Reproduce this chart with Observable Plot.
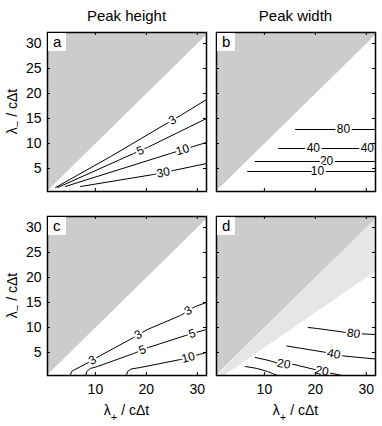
<!DOCTYPE html>
<html><head><meta charset="utf-8">
<script src="https://cdn.jsdelivr.net/npm/d3@7"></script>
<script src="https://cdn.jsdelivr.net/npm/@observablehq/plot@0.6"></script>
<style>
body{margin:0;background:#fff;}
#fig{position:relative;width:382px;height:426px;font-family:"Liberation Sans",Arial,sans-serif;}
#fig .pw{position:absolute;}
#fig svg.ov{position:absolute;left:0;top:0;pointer-events:none;}
</style></head><body><div id="fig"></div>
<script>
// ---- data ----
const xDomain = [0.6, 31.8];
const yDomain = [0.4, 32.2];
const xTicks = [10, 20, 30];
const yTicks = [5, 10, 15, 20, 25, 30];
const columnTitles = ["Peak height", "Peak width"];
const panelLetters = ["a", "b", "c", "d"];
// region where lambda_- > lambda_+ (excluded)
const excludedRegion = [[0.6, 0.6], [0.6, 32.2], [31.8, 32.2], [31.8, 31.8]];
// extra excluded wedge in panel d
const wedgeD = [[0.6, 0.4], [31.8, 31.8], [31.8, 21.3], [2.0, 0.4]];

const linesA = [
  {level: 3,  pts: [[2.2,1.2],[13.0,7.4],[23.3,13.6],[26.7,15.6],[31.8,18.8]]},
  {level: 5,  pts: [[2.6,1.2],[17.5,8.0],[20.2,9.2],[31.8,15.0]]},
  {level: 10, pts: [[4.1,1.4],[24.7,8.0],[29.2,9.4],[31.8,10.2]]},
  {level: 30, pts: [[7.1,1.4],[21.4,3.8],[25.3,4.6],[31.8,6.0]]}
];
const labelsA = [{level:3,x:25.1},{level:5,x:18.8},{level:10,x:27.1},{level:30,x:23.3}];

const linesB = [
  {level: 80, pts: [[16.1,12.8],[31.8,12.8]]},
  {level: 40, pts: [[12.8,9.0],[31.8,9.0]]},
  {level: 20, pts: [[8.2,6.4],[31.8,6.4]]},
  {level: 10, pts: [[6.7,4.4],[31.8,4.4]]}
];
const labelsB = [{level:80,x:25.5},{level:40,x:19.6},{level:40,x:30.2},{level:20,x:22.2},{level:10,x:20.4}];

const linesC = [
  {level: 3,  pts: [[5.1,0.4],[5.3,1.2],[6.0,1.6],[9.0,3.2],[11.0,4.4],[17.5,8.0],[20.2,9.6],[26.7,12.4],[29.6,14.2],[31.8,15.0]]},
  {level: 5,  pts: [[8.1,0.4],[8.3,1.2],[9.0,1.8],[10.4,2.2],[17.5,4.8],[20.4,6.0],[27.7,8.4],[31.8,9.6]]},
  {level: 10, pts: [[16.1,0.4],[16.3,1.2],[17.0,1.7],[18.8,2.0],[26.7,3.6],[31.8,5.0]]}
];
const labelsC = [{level:3,x:9.4},{level:3,x:18.4},{level:3,x:28.2},{level:5,x:19.2},{level:5,x:29.0},{level:10,x:28.2}];

const linesD = [
  {level: 80, pts: [[18.6,10.0],[20.4,9.8],[27.5,8.8],[31.8,8.6]]},
  {level: 40, pts: [[14.4,6.3],[21.6,5.1],[23.6,4.7],[25.6,4.3],[31.8,3.7]]},
  {level: 20, pts: [[8.2,4.0],[10.5,3.5],[12.5,2.9],[13.8,2.7],[15.8,2.6],[20.3,1.5],[21.3,1.3],[22.9,0.9],[25.2,0.4]]},
  {level: 10, pts: [[6.3,2.2],[8.6,1.8],[10.6,1.2],[11.6,0.8],[12.6,0.4]]}
];
const labelsD = [{level:80,x:27.5},{level:40,x:23.6},{level:20,x:13.8},{level:20,x:21.3}];

// ---- layout ----
const PW = 159, PH = 159;
const kx = PW / (xDomain[1] - xDomain[0]), ky = PH / (yDomain[1] - yDomain[0]);
const DARK = "#cccccc", LIGHT = "#e6e6e6";
const FONT = "'Liberation Sans', Arial, Helvetica, sans-serif";

const panels = [
  {i:0, left:0,   top:0,   w:210, h:195, ml:47, mr:4, mt:32, mb:4,  lines:linesA, labels:labelsA, yLab:true,  xLab:false, wedge:null},
  {i:1, left:210, top:0,   w:172, h:195, ml:6,  mr:7, mt:32, mb:4,  lines:linesB, labels:labelsB, yLab:false, xLab:false, wedge:null},
  {i:2, left:0,   top:195, w:210, h:231, ml:47, mr:4, mt:21, mb:51, lines:linesC, labels:labelsC, yLab:true,  xLab:true,  wedge:null},
  {i:3, left:210, top:195, w:172, h:231, ml:6,  mr:7, mt:21, mb:51, lines:linesD, labels:labelsD, yLab:false, xLab:true,  wedge:wedgeD}
];

function onLine(pts, x) {
  for (let i = 0; i < pts.length - 1; i++) {
    const [x0, y0] = pts[i], [x1, y1] = pts[i + 1];
    if (x >= Math.min(x0, x1) && x <= Math.max(x0, x1)) {
      const t = x1 === x0 ? 0 : (x - x0) / (x1 - x0);
      const y = y0 + t * (y1 - y0);
      const angle = -Math.atan2((y1 - y0) * ky, (x1 - x0) * kx) * 180 / Math.PI;
      return {y, angle};
    }
  }
  return {y: pts[pts.length - 1][1], angle: 0};
}

const fig = document.getElementById("fig");

for (const p of panels) {
  const linePts = p.lines.flatMap((l, k) => l.pts.map(([x, y]) => ({x, y, id: k})));
  const labs = p.labels.map(lb => {
    const line = p.lines.find(l => l.level === lb.level);
    const {y, angle} = onLine(line.pts, lb.x);
    return {x: lb.x, y, angle, text: String(lb.level)};
  });
  const marks = [];
  if (p.wedge) marks.push(Plot.line(p.wedge, {x: d => d[0], y: d => d[1], fill: LIGHT, stroke: "none"}));
  marks.push(Plot.line(excludedRegion, {x: d => d[0], y: d => d[1], fill: DARK, stroke: "none"}));
  marks.push(Plot.line(linePts, {x: "x", y: "y", z: "id", stroke: "black", strokeWidth: 1}));
  marks.push(Plot.text(labs, {x: "x", y: "y", text: "text", rotate: "angle", fill: "black",
    stroke: "white", strokeWidth: 4, fontSize: 12, fontFamily: FONT}));
  // inward ticks on all four sides
  marks.push(Plot.ruleX(xTicks, {x: d => d, insetTop: PH - 3, stroke: "black"}));
  marks.push(Plot.ruleX(xTicks, {x: d => d, insetBottom: PH - 3, stroke: "black"}));
  marks.push(Plot.ruleY(yTicks, {y: d => d, insetRight: PW - 3, stroke: "black"}));
  marks.push(Plot.ruleY(yTicks, {y: d => d, insetLeft: PW - 3, stroke: "black"}));
  if (p.yLab) marks.push(Plot.text(yTicks, {y: d => d, text: d => String(d), frameAnchor: "left",
    textAnchor: "end", dx: -6, fontSize: 14, fill: "black", fontFamily: FONT}));
  if (p.xLab) marks.push(Plot.text(xTicks, {x: d => d, text: d => String(d), frameAnchor: "bottom",
    lineAnchor: "bottom", dy: 18, fontSize: 14, fill: "black", fontFamily: FONT}));
  marks.push(Plot.frame({stroke: "black", strokeWidth: 1.5}));

  const chart = Plot.plot({
    width: p.w, height: p.h,
    marginLeft: p.ml, marginRight: p.mr, marginTop: p.mt, marginBottom: p.mb,
    x: {domain: xDomain, axis: null},
    y: {domain: yDomain, axis: null},
    style: {background: "transparent", fontFamily: FONT, overflow: "visible"},
    marks
  });
  const wrap = document.createElement("div");
  wrap.className = "pw";
  wrap.style.left = p.left + "px";
  wrap.style.top = p.top + "px";
  wrap.appendChild(chart);
  fig.appendChild(wrap);
}

// ---- overlay: titles, axis titles, panel letters ----
const ov = d3.select(fig).append("svg").attr("class", "ov").attr("width", 382).attr("height", 426)
  .style("font-family", FONT);
columnTitles.forEach((t, c) => {
  const p = panels[c];
  ov.append("text").attr("x", p.left + p.ml + PW / 2).attr("y", 21).attr("text-anchor", "middle")
    .attr("font-size", 15).attr("fill", "black").text(t);
});
panels.forEach(p => {
  const x0 = p.left + p.ml, y0 = p.top + p.mt;
  ov.append("rect").attr("x", x0 + 1).attr("y", y0 + 1).attr("width", 18).attr("height", 18).attr("fill", "white");
  ov.append("text").attr("x", x0 + 6).attr("y", y0 + 15).attr("font-size", 15).attr("fill", "black")
    .text(panelLetters[p.i]);
  if (p.yLab) {
    const t = ov.append("text").attr("transform", `translate(17,${y0 + PH / 2}) rotate(-90)`)
      .attr("text-anchor", "middle").attr("font-size", 14).attr("fill", "black");
    t.append("tspan").text("λ");
    t.append("tspan").attr("dy", 4).attr("font-size", 11).text("−");
    t.append("tspan").attr("dy", -4).text(" / cΔt");
  }
  if (p.xLab) {
    const t = ov.append("text").attr("x", x0 + PW / 2).attr("y", y0 + PH + 40)
      .attr("text-anchor", "middle").attr("font-size", 14).attr("fill", "black");
    t.append("tspan").text("λ");
    t.append("tspan").attr("dy", 6).attr("font-size", 11).text("+");
    t.append("tspan").attr("dy", -6).text(" / cΔt");
  }
});
</script>
</body></html>
